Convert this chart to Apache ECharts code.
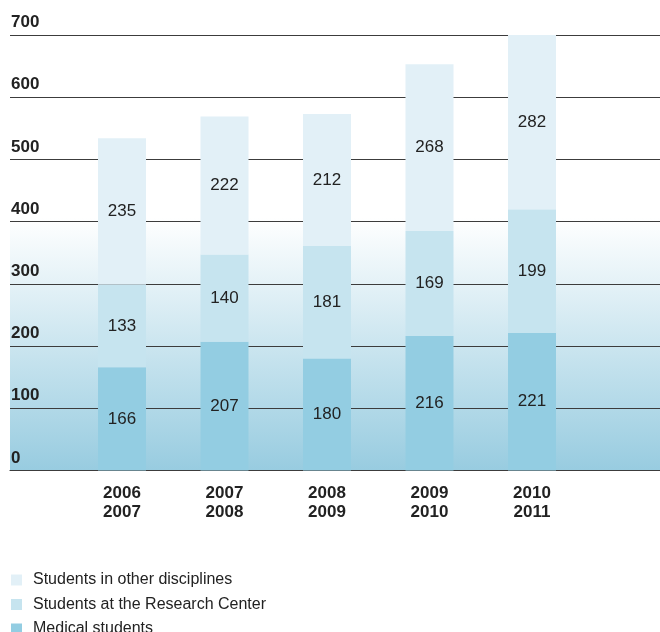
<!DOCTYPE html>
<html><head><meta charset="utf-8">
<script src="https://cdn.jsdelivr.net/npm/echarts@6/dist/echarts.min.js"></script>
<style>html,body{margin:0;padding:0;background:#fff}#c{width:660px;height:632px}</style>
</head><body><div id="c"></div>
<script>
var categories = ['2006\n2007', '2007\n2008', '2008\n2009', '2009\n2010', '2010\n2011'];
var medical = [166, 207, 180, 216, 221];
var research = [133, 140, 181, 169, 199];
var other = [235, 222, 212, 268, 282];
var seriesNames = ['Students in other disciplines', 'Students at the Research Center', 'Medical students'];
var yTicks = [0, 100, 200, 300, 400, 500, 600, 700];

var FONT = "'Liberation Sans', Arial, sans-serif";
var TXT = '#222';
var chart = echarts.init(document.getElementById('c'), null, {renderer: 'canvas'});
var lbl = {show: true, position: 'inside', color: TXT, fontSize: 17, fontFamily: FONT};
chart.setOption({
  animation: false,
  textStyle: {fontFamily: FONT},
  legend: {
    orient: 'vertical', left: 11, top: 572, height: 120, padding: 0,
    itemWidth: 11, itemHeight: 11, itemGap: 8.5,
    icon: 'rect', data: seriesNames,
    textStyle: {color: TXT, fontSize: 16, fontFamily: FONT, padding: [0, 0, 0, 6]}
  },
  grid: [
    {left: 10, right: 0, top: 35, bottom: 161.5, show: true, borderWidth: 0,
     backgroundColor: new echarts.graphic.LinearGradient(0, 0, 0, 1, [
       {offset: 0, color: '#ffffff'}, {offset: 0.42, color: '#ffffff'}, {offset: 1, color: '#98cce0'}])},
    {left: 70.75, right: 76.75, top: 35, bottom: 161.5}
  ],
  xAxis: [
    {type: 'value', gridIndex: 0, min: 0, max: 1, axisLabel: {show: false}, axisTick: {show: false},
     splitLine: {show: false}, axisLine: {show: true, lineStyle: {color: '#3c3c3c', width: 1.2}}},
    {type: 'category', gridIndex: 1, data: categories, axisLine: {show: false}, axisTick: {show: false},
     axisLabel: {color: TXT, fontSize: 17, fontWeight: 'bold', lineHeight: 19, margin: 13, fontFamily: FONT}}
  ],
  yAxis: [
    {type: 'value', gridIndex: 0, min: 0, max: 700, interval: 100,
     axisLine: {show: false}, axisTick: {show: false},
     splitLine: {show: true, lineStyle: {color: '#3c3c3c', width: 1}},
     axisLabel: {inside: true, margin: 1, verticalAlign: 'bottom', padding: [0, 0, 4, 0],
       color: TXT, fontSize: 17, fontWeight: 'bold', fontFamily: FONT}},
    {type: 'value', gridIndex: 1, min: 0, max: 700, interval: 100, show: false, splitLine: {show: false}}
  ],
  series: [
    {name: seriesNames[2], type: 'bar', stack: 's', xAxisIndex: 1, yAxisIndex: 1, barWidth: 48,
     data: medical, itemStyle: {color: '#93cde2'}, label: lbl},
    {name: seriesNames[1], type: 'bar', stack: 's', xAxisIndex: 1, yAxisIndex: 1, barWidth: 48,
     data: research, itemStyle: {color: '#c6e4ef'}, label: lbl},
    {name: seriesNames[0], type: 'bar', stack: 's', xAxisIndex: 1, yAxisIndex: 1, barWidth: 48,
     data: other, itemStyle: {color: '#e2f0f7'}, label: lbl}
  ]
});
</script></body></html>
